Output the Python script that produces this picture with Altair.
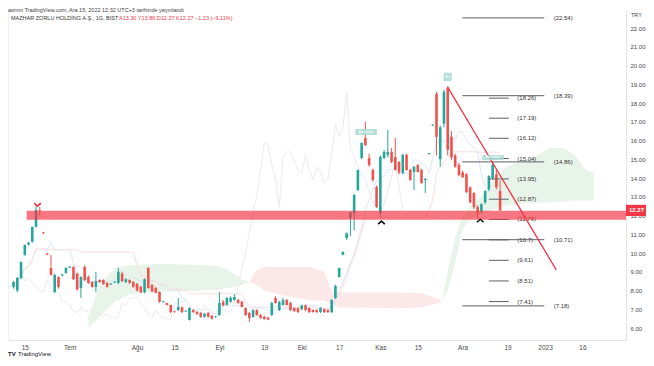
import altair as alt
import pandas as pd

# ---------------- data ----------------
day = list(range(-3, 128))  # trading-day index, 0 = 15 Jun 2022, 127 = 15 Dec 2022

open_ = [8.19, 8.00, 8.67, 9.90, 10.45, 10.60, 11.40, 12.30, 11.10, 9.98,
         9.20, 7.92, 8.72, 8.80, 8.93, 9.22, 9.25, 8.90, 8.13, 9.25,
         8.72, 8.45, 8.19, 8.56, 8.56, 8.40, 8.32, 8.42, 8.40, 8.90,
         8.45, 8.56, 8.45, 8.35, 8.20, 7.90, 9.20, 8.30, 8.13, 7.92,
         7.38, 7.33, 7.23, 6.88, 6.96, 7.10, 6.88, 6.43, 6.96, 6.85,
         6.80, 6.60, 6.80, 6.65, 6.58, 6.69, 7.40, 7.23, 7.40, 7.50,
         7.50, 7.40, 7.07, 6.80, 6.59, 6.96, 6.69, 6.60, 6.55, 6.69,
         7.60, 6.96, 7.23, 7.49, 7.33, 7.07, 7.05, 7.00, 7.20, 7.07,
         6.96, 6.96, 6.85, 7.00, 6.95, 6.85, 7.60, 8.72, 9.90, 10.80,
         11.87, 12.13, 13.36, 15.07, 16.13, 15.07, 14.43, 13.52, 12.13, 15.07,
         15.23, 15.39, 15.12, 14.85, 14.27, 15.23, 14.43, 14.32, 14.69, 14.43,
         13.89, 15.28, 16.80, 18.50, 15.00, 16.90, 18.80, 16.20, 15.20, 14.70,
         14.30, 14.20, 13.50, 13.20, 12.45, 12.20, 12.70, 13.40, 14.00, 14.20,
         13.30]
high = [8.50, 8.72, 9.55, 10.45, 10.60, 11.40, 12.50, 12.45, 11.12, 10.00,
        9.89, 8.90, 8.75, 8.90, 9.25, 9.30, 9.30, 8.95, 8.75, 9.35,
        8.80, 8.50, 8.99, 8.60, 8.60, 8.45, 8.40, 8.50, 9.20, 9.00,
        8.65, 8.60, 8.50, 8.40, 8.25, 8.65, 9.25, 8.35, 8.20, 7.95,
        7.45, 7.35, 7.25, 6.92, 7.60, 7.15, 6.95, 7.10, 7.00, 6.90,
        6.85, 6.80, 6.85, 6.70, 6.65, 7.92, 7.50, 7.65, 7.70, 7.80,
        7.55, 7.45, 7.10, 6.85, 7.00, 7.00, 6.75, 6.65, 6.60, 7.40,
        7.70, 7.45, 7.60, 7.55, 7.40, 7.10, 7.10, 7.25, 7.25, 7.10,
        7.00, 7.00, 7.10, 7.05, 7.00, 7.55, 8.30, 9.22, 10.10, 11.10,
        12.20, 13.15, 14.45, 15.90, 16.99, 15.30, 14.50, 13.60, 15.20, 15.50,
        16.56, 15.60, 16.13, 14.90, 15.30, 15.30, 14.50, 14.65, 14.75, 14.50,
        14.00, 15.34, 16.86, 18.60, 16.80, 18.70, 18.90, 16.50, 15.30, 14.80,
        14.40, 14.25, 13.55, 13.25, 12.55, 12.65, 13.35, 14.15, 14.85, 14.50,
        13.86]
low = [8.10, 7.90, 8.60, 9.85, 10.40, 10.55, 11.35, 12.00, 11.02, 9.88,
       8.80, 7.85, 8.10, 8.75, 8.90, 9.20, 8.55, 8.00, 7.60, 8.50,
       8.35, 8.15, 7.90, 8.40, 8.30, 8.15, 8.30, 8.40, 8.35, 8.45,
       8.40, 8.35, 8.15, 7.95, 7.85, 7.85, 8.10, 7.90, 7.85, 7.35,
       7.35, 7.20, 6.80, 6.82, 6.90, 6.80, 6.85, 6.40, 6.80, 6.70,
       6.55, 6.55, 6.55, 6.45, 6.55, 6.65, 7.15, 7.20, 7.35, 7.45,
       7.30, 7.10, 6.65, 6.32, 6.55, 6.65, 6.50, 6.45, 6.42, 6.65,
       7.30, 6.90, 7.20, 7.20, 6.90, 6.85, 6.80, 6.95, 6.90, 6.80,
       6.82, 6.80, 6.80, 6.80, 6.80, 6.80, 7.55, 8.70, 9.88, 10.70,
       10.90, 11.20, 13.30, 15.00, 15.70, 14.60, 13.80, 12.40, 11.90, 15.00,
       15.10, 14.80, 14.40, 14.20, 14.20, 14.40, 13.85, 13.36, 14.30, 13.70,
       13.20, 15.25, 16.78, 15.20, 14.60, 16.70, 15.20, 14.95, 14.55, 14.10,
       14.00, 13.20, 12.65, 12.35, 11.85, 12.10, 12.60, 13.30, 13.90, 13.40,
       12.27]
close = [8.45, 8.67, 9.52, 10.43, 10.55, 11.39, 12.30, 12.25, 11.05, 9.92,
         8.83, 8.83, 8.19, 8.85, 9.20, 9.27, 8.60, 8.05, 8.72, 8.56,
         8.40, 8.19, 8.50, 8.45, 8.35, 8.20, 8.37, 8.47, 9.00, 8.50,
         8.60, 8.40, 8.20, 8.00, 7.90, 8.60, 8.13, 7.95, 7.87, 7.39,
         7.42, 7.23, 6.85, 6.85, 7.12, 6.85, 6.92, 7.07, 6.85, 6.75,
         6.59, 6.75, 6.60, 6.50, 6.62, 7.33, 7.20, 7.60, 7.60, 7.65,
         7.33, 7.12, 6.69, 6.53, 6.96, 6.69, 6.53, 6.48, 6.45, 7.33,
         7.33, 7.39, 7.49, 7.23, 6.96, 6.90, 6.85, 7.20, 6.96, 6.85,
         6.85, 6.85, 7.07, 6.85, 6.85, 7.49, 8.24, 9.20, 10.05, 11.05,
         12.19, 13.10, 14.43, 15.87, 15.76, 14.69, 13.89, 12.45, 15.12, 15.39,
         15.39, 14.85, 14.43, 14.30, 15.23, 14.43, 13.89, 14.59, 14.32, 13.73,
         13.95, 15.33, 16.85, 16.20, 16.70, 18.60, 15.50, 15.10, 14.60, 14.15,
         14.05, 13.25, 12.70, 12.45, 12.15, 12.60, 13.30, 14.10, 14.70, 13.50,
         12.27]

# Ichimoku cloud edges
cloud_seg = ["g1"] * 11 + ["p1"] * 12 + ["g2"] * 15
cloud_day = [17, 20, 24, 28, 32, 40, 48, 52, 55, 58, 60,
             60, 62, 64, 70, 76, 80, 82, 84, 100, 106, 110, 111.5,
             111.5, 113, 115, 117, 119, 122, 125, 128, 131, 136, 140, 144, 147, 150, 152]
cloud_top = [6.6, 8.3, 9.2, 9.35, 9.4, 9.4, 9.35, 9.3, 9.0, 8.6, 8.45,
             8.45, 9.1, 9.25, 9.25, 9.25, 9.0, 8.0, 7.9, 7.9, 7.85, 7.6, 7.45,
             7.45, 9.0, 10.8, 12.0, 12.5, 13.0, 13.8, 14.5, 14.8, 15.1, 15.6, 15.6, 15.2, 14.4, 14.3]
cloud_bottom = [6.0, 6.6, 7.4, 7.8, 7.9, 7.95, 8.0, 8.05, 8.15, 8.3, 8.45,
                8.45, 8.3, 8.0, 7.7, 7.5, 7.45, 7.3, 7.1, 7.05, 7.1, 7.3, 7.45,
                7.45, 8.0, 9.5, 11.3, 11.8, 12.1, 12.3, 12.5, 12.6, 12.7, 12.7, 12.75, 12.8, 12.8, 12.8]

# drawings
short_levels = [18.26, 17.19, 16.12, 15.04, 13.95, 12.87, 11.79, 10.7, 9.61, 8.51, 7.41]
short_labels = ["(18.26)", "(17.19)", "(16.12)", "(15.04)", "(13.95)", "(12.87)",
                "(11.79)", "(10.7)", "(9.61)", "(8.51)", "(7.41)"]
long_levels = [22.54, 18.39, 14.86, 10.71, 7.18]
long_labels = ["(22.54)", "(18.39)", "(14.86)", "(10.71)", "(7.18)"]
band_low, band_high = 11.77, 12.25
trend_day = [113, 142]
trend_value = [18.85, 9.10]
last_price = 12.27

tick_days = [0, 12, 30, 40, 52, 64, 74, 84, 95, 105, 117, 129, 139, 149]
tick_labels = ["15", "Tem", "Ağu", "15", "Eyl", "19", "Eki", "17", "Kas", "15",
               "Ara", "19", "2023", "16"]
price_ticks = list(range(6, 23))

header = "asmm TradingView.com, Ara 15, 2022 12:32 UTC+3 tarihinde yayınlandı"
symbol = "MAZHAR ZORLU HOLDİNG A.Ş., 1G, BIST"
ohlc_text = "A13.30  Y13.86  D12.27  K12.27  −1.23 (−9.11%)"

# ---------------- tables ----------------
candles = pd.DataFrame({"day": day, "open": open_, "high": high, "low": low, "close": close})
candles["dir"] = ["up" if c >= o else "down" for o, c in zip(open_, close)]
up_c = candles[candles["dir"] == "up"]
dn_c = candles[candles["dir"] == "down"]

s = candles.set_index("day")
tenkan = (s["high"].rolling(9, min_periods=1).max() + s["low"].rolling(9, min_periods=1).min()) / 2
kijun = (s["high"].rolling(26, min_periods=1).max() + s["low"].rolling(26, min_periods=1).min()) / 2
ind = pd.DataFrame({"day": day, "tenkan": tenkan.values, "kijun": kijun.values})
chikou = pd.DataFrame({"day": [d - 26 for d in day], "close": close})

cloud = pd.DataFrame({"seg": cloud_seg, "day": cloud_day, "top": cloud_top, "bottom": cloud_bottom})
cloud_green = cloud[cloud["seg"] != "p1"]
cloud_pink = cloud[cloud["seg"] == "p1"]

short_df = pd.DataFrame({"level": short_levels, "label": short_labels})
short_df["x1"], short_df["x2"], short_df["xl"] = 124.0, 129.3, 131.6
long_df = pd.DataFrame({"level": long_levels, "label": long_labels})
long_df["x1"], long_df["x2"], long_df["xl"] = 116.9, 138.8, 141.3

band = pd.DataFrame({"x1": [0.5], "x2": [175.0], "lo": [band_low], "hi": [band_high]})
trend = pd.DataFrame({"day": trend_day, "value": trend_value})
v_mark = pd.DataFrame({"day": [3.4], "value": [12.58]})
up_marks = pd.DataFrame({"day": [95.3, 121.7], "value": [11.62, 11.72]})
boxes = pd.DataFrame({"x1": [111.9, 88.3, 122.2], "x2": [114.1, 94.1, 128.0],
                      "lo": [19.17, 16.29, 14.96], "hi": [19.61, 16.61, 15.23],
                      "t": ["Bu", "Bu seviye", "Bu seviye"]})
boxes["xc"] = (boxes["x1"] + boxes["x2"]) / 2
boxes["yc"] = (boxes["lo"] + boxes["hi"]) / 2
price_df = pd.DataFrame({"p": [last_price], "lo": [last_price - 0.3], "hi": [last_price + 0.3],
                         "t": [f"{last_price:.2f}"]})
one = pd.DataFrame({"a": [0]})

# ---------------- scales / axes ----------------
FONT = "Liberation Sans"
W, H = 618, 330
UP, DOWN = "#26a69a", "#ef5350"
xs = alt.Scale(domain=[-3.15, 159.3], nice=False, zero=False)
ys = alt.Scale(domain=[5.36, 22.96], nice=False, zero=False)
label_expr = "".join(f"datum.value == {d} ? '{t}' : " for d, t in zip(tick_days, tick_labels)) + "''"
x_axis = alt.Axis(values=tick_days, labelExpr=label_expr, grid=False, ticks=False,
                  domainColor="#e0e3eb", labelColor="#4a4a4a", labelFontSize=6.5, labelFont=FONT,
                  labelPadding=4, labelFlush=False, labelOverlap=False)
y_axis = alt.Axis(orient="right", values=price_ticks, format=".2f", grid=False, ticks=False,
                  domainColor="#e0e3eb", labelColor="#4a4a4a", labelFontSize=6, labelFont=FONT,
                  labelPadding=4, labelFlush=False, labelOverlap=False)


def X(f):
    return alt.X(f, type="quantitative", scale=xs, axis=x_axis, title=None)


def Y(f):
    return alt.Y(f, type="quantitative", scale=ys, axis=y_axis, title=None)


# ---------------- layers ----------------
green_cloud = alt.Chart(cloud_green).mark_area(clip=True, color="#e8f4e9", opacity=1).encode(
    x=X("day"), y=Y("top"), y2="bottom", detail="seg:N")
pink_cloud = alt.Chart(cloud_pink).mark_area(clip=True, color="#fde8e9", opacity=1).encode(
    x=X("day"), y=Y("top"), y2="bottom")

tenkan_l = alt.Chart(ind).mark_line(clip=True, color="#dde5f8", strokeWidth=1).encode(x=X("day"), y=Y("tenkan"))
kijun_l = alt.Chart(ind).mark_line(clip=True, color="#f7dede", strokeWidth=1).encode(x=X("day"), y=Y("kijun"))
chikou_l = alt.Chart(chikou).mark_line(clip=True, color="#ebebeb", strokeWidth=1).encode(x=X("day"), y=Y("close"))

wick_up = alt.Chart(up_c).mark_rule(strokeWidth=1, color=UP).encode(x=X("day"), y=Y("low"), y2="high")
wick_dn = alt.Chart(dn_c).mark_rule(strokeWidth=1, color=DOWN).encode(x=X("day"), y=Y("low"), y2="high")
body_up = alt.Chart(up_c).mark_bar(width=2.6, color=UP).encode(x=X("day"), y=Y("open"), y2="close")
body_dn = alt.Chart(dn_c).mark_bar(width=2.6, color=DOWN).encode(x=X("day"), y=Y("open"), y2="close")

short_l = alt.Chart(short_df).mark_rule(color="#5d606b", strokeWidth=1).encode(x=X("x1"), x2="x2", y=Y("level"))
short_t = alt.Chart(short_df).mark_text(align="left", baseline="middle", fontSize=6, font=FONT,
                                        color="#333333").encode(x=X("xl"), y=Y("level"), text="label")
long_l = alt.Chart(long_df).mark_rule(color="#5d606b", strokeWidth=1).encode(x=X("x1"), x2="x2", y=Y("level"))
long_t = alt.Chart(long_df).mark_text(align="left", baseline="middle", fontSize=6, font=FONT,
                                      color="#333333").encode(x=X("xl"), y=Y("level"), text="label")

band_l = alt.Chart(band).mark_rect(clip=True, color="#f23645", opacity=0.68).encode(
    x=X("x1"), x2="x2", y=Y("lo"), y2="hi")

trend_l = alt.Chart(trend).mark_line(color="#f23645", strokeWidth=1.3).encode(x=X("day"), y=Y("value"))

v_l = alt.Chart(v_mark).mark_point(shape="M-1,-0.45L0,0.45L1,-0.45", filled=False, size=45,
                                   strokeWidth=1.6, color="#e8333f", opacity=1).encode(x=X("day"), y=Y("value"))
up_l = alt.Chart(up_marks).mark_point(shape="M-1,0.45L0,-0.45L1,0.45", filled=False, size=45,
                                      strokeWidth=1.6, color="#111111", opacity=1).encode(x=X("day"), y=Y("value"))

box_r = alt.Chart(boxes).mark_rect(color="#a8dad4", opacity=0.85, cornerRadius=1).encode(
    x=X("x1"), x2="x2", y=Y("lo"), y2="hi")
box_t = alt.Chart(boxes).mark_text(fontSize=3.5, font=FONT, color="#ffffff").encode(
    x=X("xc"), y=Y("yc"), text="t")

price_r = alt.Chart(price_df).mark_rect(color="#f23645").encode(
    x=alt.value(W), x2=alt.value(W + 20), y=Y("lo"), y2="hi")
price_t = alt.Chart(price_df).mark_text(fontSize=6, font=FONT, color="#ffffff", fontWeight="bold",
                                        align="left").encode(x=alt.value(W + 3), y=Y("p"), text="t")

left_line = alt.Chart(one).mark_rule(color="#e0e3eb").encode(x=alt.value(0), y=alt.value(0), y2=alt.value(H))

hdr = alt.Chart(one).mark_text(align="left", baseline="top", fontSize=5.5, font=FONT, color="#444444",
                               text=header).encode(x=alt.value(0), y=alt.value(-2))
sym = alt.Chart(one).mark_text(align="left", baseline="middle", fontSize=5.5, font=FONT, color="#333333",
                               text=symbol).encode(x=alt.value(3), y=alt.value(8))
ohlc = alt.Chart(one).mark_text(align="left", baseline="middle", fontSize=5.5, font=FONT, color="#f23645",
                                text=ohlc_text).encode(x=alt.value(111), y=alt.value(8))
cur = alt.Chart(one).mark_text(align="left", baseline="middle", fontSize=5.5, font=FONT, color="#4a4a4a",
                               text="TRY").encode(x=alt.value(W + 5), y=alt.value(5))
tv1 = alt.Chart(one).mark_text(align="left", baseline="middle", fontSize=6, font=FONT, color="#131722",
                               fontWeight="bold", text="TV").encode(x=alt.value(0), y=alt.value(H + 14))
tv2 = alt.Chart(one).mark_text(align="left", baseline="middle", fontSize=6, font=FONT, color="#131722",
                               text="TradingView").encode(x=alt.value(10), y=alt.value(H + 14))

chart = alt.layer(
    green_cloud, pink_cloud, tenkan_l, kijun_l, chikou_l, wick_up, wick_dn, body_up, body_dn,
    short_l, short_t, long_l, long_t, band_l, trend_l, v_l, up_l, box_r, box_t,
    price_r, price_t, left_line, hdr, sym, ohlc, cur, tv1, tv2
).properties(
    width=W, height=H,
    padding={"left": 0, "top": 2, "right": 20, "bottom": 18},
    autosize=alt.AutoSizeParams(type="none"),
    background="#ffffff",
).configure_view(stroke=None)

chart.save("out.html", embed_options={"renderer": "svg", "actions": False})
